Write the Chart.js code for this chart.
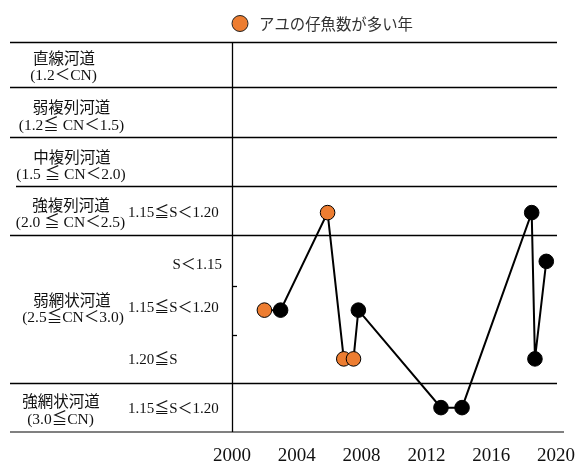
<!DOCTYPE html>
<html><head><meta charset="utf-8">
<script src="https://cdn.jsdelivr.net/npm/chart.js@4/dist/chart.umd.min.js"></script>
<style>html,body{margin:0;padding:0;background:#fff}#wrap{position:relative;width:579px;height:464px}</style>
</head><body><div id="wrap"><canvas id="c" width="579" height="464"></canvas></div>
<script>
// ---- data ----
const years = [2002, 2003, 2005.9, 2006.9, 2007.5, 2007.8, 2012.9, 2014.2, 2018.5, 2018.7, 2019.4];
const levels = [5.5, 5.5, 3.5, 6.5, 6.5, 5.5, 7.5, 7.5, 3.5, 6.5, 4.5];
const manyLarvae = [true, false, true, true, true, false, false, false, false, false, false];
const xTicks = [2000, 2004, 2008, 2012, 2016, 2020];
const channelNames = ["直線河道", "弱複列河道", "中複列河道", "強複列河道", "弱網状河道", "強網状河道"];
const channelRanges = ["(1.2＜CN)", "(1.2≦ CN＜1.5)", "(1.5 ≦ CN＜2.0)", "(2.0 ≦ CN＜2.5)", "(2.5≦CN＜3.0)", "(3.0≦CN)"];
const channelLevels = [0.51, 1.53, 2.54, 3.53, 5.47, 7.56];
const slopeLabels = ["1.15≦S＜1.20", "S＜1.15", "1.15≦S＜1.20", "1.20≦S", "1.15≦S＜1.20"];
const slopeLevels = [3.5, 4.5, 5.5, 6.5, 7.5];
const bandEdges = [0, 0.92, 1.95, 2.96, 3.96, 7];
const minorEdges = [5, 6];
const legendLabel = "アユの仔魚数が多い年";

// ---- layout / style ----
const ORANGE = '#ED7D31';
const LATIN = '"Liberation Serif", "Noto Sans CJK JP", serif';
const JP = '"Noto Sans CJK JP", "Liberation Serif", sans-serif';
const nameX = [64, 71.5, 72, 71, 72, 61];
const rangeX = [63.5, 71.5, 71, 70.5, 73, 60.5];
const slopeAlignRight = [false, true, false, false, false];
const slopeDy = [0, 4, -2, 1, 1];

const framePlugin = {
  id: 'frame',
  beforeDatasetsDraw(chart) {
    const {ctx, chartArea: a, scales: {x, y}} = chart;
    ctx.save();
    ctx.strokeStyle = '#000';
    ctx.lineWidth = 1.3;
    bandEdges.forEach((v, i) => {
      const py = Math.round(y.getPixelForValue(v)) + 0.5;
      ctx.beginPath();
      ctx.moveTo(i === 3 ? 16 : 10, py);
      ctx.lineTo(a.right + 1, py);
      ctx.stroke();
    });
    // bottom line (grey)
    ctx.strokeStyle = '#808080';
    ctx.lineWidth = 2;
    ctx.beginPath();
    ctx.moveTo(10, a.bottom);
    ctx.lineTo(a.right + 8, a.bottom);
    ctx.stroke();
    // axis line
    ctx.strokeStyle = '#000';
    ctx.lineWidth = 1.3;
    ctx.beginPath();
    ctx.moveTo(a.left + 0.5, a.top);
    ctx.lineTo(a.left + 0.5, a.bottom);
    ctx.stroke();
    minorEdges.forEach(v => {
      const py = Math.round(y.getPixelForValue(v)) + 0.5;
      ctx.beginPath();
      ctx.moveTo(a.left, py);
      ctx.lineTo(a.left + 5, py);
      ctx.stroke();
    });
    ctx.restore();
  },
  afterDraw(chart) {
    const {ctx, scales: {y}} = chart;
    ctx.save();
    ctx.fillStyle = '#111';
    ctx.textBaseline = 'middle';
    ctx.textAlign = 'center';
    channelNames.forEach((n, i) => {
      const py = y.getPixelForValue(channelLevels[i]);
      ctx.font = '15.5px ' + JP;
      ctx.fillText(n, nameX[i], py - 9);
      ctx.font = '15.5px ' + LATIN;
      ctx.fillText(channelRanges[i], rangeX[i], py + 9);
    });
    ctx.font = '15px ' + LATIN;
    slopeLabels.forEach((s, i) => {
      const py = y.getPixelForValue(slopeLevels[i]) + slopeDy[i];
      if (slopeAlignRight[i]) { ctx.textAlign = 'right'; ctx.fillText(s, 222, py); }
      else { ctx.textAlign = 'left'; ctx.fillText(s, 128, py); }
    });
    // legend
    ctx.beginPath();
    ctx.arc(240, 23.5, 8, 0, Math.PI * 2);
    ctx.fillStyle = ORANGE;
    ctx.fill();
    ctx.lineWidth = 1;
    ctx.strokeStyle = '#222';
    ctx.stroke();
    ctx.fillStyle = '#333';
    ctx.textAlign = 'left';
    ctx.font = '15.4px ' + JP;
    ctx.fillText(legendLabel, 259, 24);
    ctx.restore();
  }
};

new Chart(document.getElementById('c'), {
  type: 'scatter',
  data: {
    datasets: [{
      label: legendLabel,
      data: years.map((yr, i) => ({x: yr, y: levels[i]})),
      showLine: true,
      borderColor: '#000',
      borderWidth: 2,
      pointRadius: 7.3,
      pointHoverRadius: 7.3,
      pointBorderWidth: 1,
      pointBorderColor: '#000',
      pointBackgroundColor: manyLarvae.map(f => f ? ORANGE : '#000'),
      clip: false
    }]
  },
  options: {
    responsive: false,
    animation: false,
    events: [],
    layout: {padding: {left: 232, right: 23, top: 42, bottom: 0}},
    plugins: {legend: {display: false}, tooltip: {enabled: false}},
    scales: {
      x: {
        type: 'linear', min: 2000, max: 2020,
        afterBuildTicks: s => { s.ticks = xTicks.map(v => ({value: v})); },
        afterFit: s => { s.height = 32; s.paddingRight = 0; s.paddingLeft = 0; },
        grid: {display: false, drawTicks: false},
        border: {display: false},
        ticks: {
          callback: v => String(v),
          color: '#111',
          padding: 15,
          maxRotation: 0,
          autoSkip: false,
          font: {family: LATIN, size: 19, lineHeight: 1}
        }
      },
      y: {
        type: 'linear', min: 0, max: 8, reverse: true, display: false
      }
    }
  },
  plugins: [framePlugin]
});
</script></body></html>
